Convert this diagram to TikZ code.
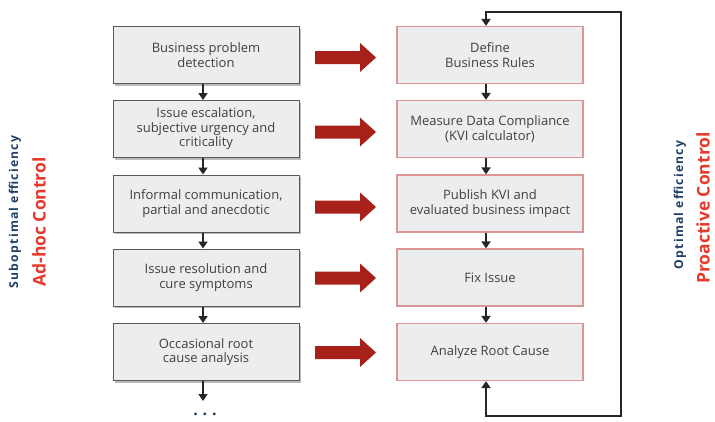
\documentclass[tikz,border=0pt]{standalone}
\usepackage{fontspec}
\setmainfont{Open Sans}
\newfontfamily\spacedfont[LetterSpace=10]{Open Sans}
\newfontfamily\dotsfont[LetterSpace=30]{Open Sans}
\usetikzlibrary{shadows,arrows.meta}
\definecolor{boxfill}{HTML}{EBEDEF}
\definecolor{leftborder}{HTML}{5A5A5A}
\definecolor{rightborder}{HTML}{D99694}
\definecolor{txt}{HTML}{404040}
\definecolor{arrowred}{HTML}{A8201A}
\definecolor{navy}{HTML}{1F3F66}
\definecolor{brightred}{HTML}{E53A2C}
\tikzset{
  boxtext/.style={align=center, text=txt, font=\fontsize{13}{14.6}\selectfont, inner sep=0pt,
    minimum width=186pt, minimum height=57pt},
  leftbox/.style={boxtext, draw=leftborder, line width=1pt, fill=boxfill,
    drop shadow={shadow xshift=2pt, shadow yshift=-2pt, fill=black!45, opacity=0.6}},
  rightbox/.style={boxtext, draw=rightborder, line width=1.2pt, fill=boxfill},
  flow/.style={line width=1.8pt, draw=black!85, -{Triangle[length=7pt,width=9pt]}},
  redarr/.pic={\fill[arrowred] (-30.5,-6.5) -- (14.5,-6.5) -- (14.5,-14.5) -- (30.5,0)
      -- (14.5,14.5) -- (14.5,6.5) -- (-30.5,6.5) -- cycle;},
  sidesmall/.style={rotate=90, text=navy, font=\spacedfont\bfseries\fontsize{12.2}{13}\selectfont, inner sep=0pt},
  sidebig/.style={rotate=90, text=brightred, font=\bfseries\fontsize{17.5}{18}\selectfont, inner sep=0pt},
}
\begin{document}
\begin{tikzpicture}[x=1pt,y=-1pt]
\useasboundingbox (0,0) rectangle (715,421);
% left column
\node[leftbox] (l1) at (206,55) {Business problem\\detection};
\node[leftbox] (l2) at (206,129) {Issue escalation,\\subjective urgency and\\criticality};
\node[leftbox] (l3) at (206,203.5) {Informal communication,\\partial and anecdotic};
\node[leftbox] (l4) at (206,277.5) {Issue resolution and\\cure symptoms};
\node[leftbox] (l5) at (206,352) {Occasional root\\cause analysis};
\node[text=navy, font=\dotsfont\bfseries\fontsize{16}{16}\selectfont, inner sep=0pt, anchor=base] (dots) at (205,415) {...};
\coordinate (dotstop) at (203,401);
% right column
\node[rightbox] (r1) at (490,55) {Define\\Business Rules};
\node[rightbox] (r2) at (490,129) {Measure Data Compliance\\(KVI calculator)};
\node[rightbox] (r3) at (490,203.5) {Publish KVI and\\evaluated business impact};
\node[rightbox] (r4) at (490,277.5) {Fix Issue};
\node[rightbox] (r5) at (490,352) {Analyze Root Cause};
% vertical flows left
\draw[flow] (l1.south -| 203,0) -- (l2.north -| 203,0);
\draw[flow] (l2.south -| 203,0) -- (l3.north -| 203,0);
\draw[flow] (l3.south -| 203,0) -- (l4.north -| 203,0);
\draw[flow] (l4.south -| 203,0) -- (l5.north -| 203,0);
\draw[flow] (l5.south -| 203,0) -- (dotstop);
% vertical flows right
\draw[flow] (r1.south -| 486,0) -- (r2.north -| 486,0);
\draw[flow] (r2.south -| 486,0) -- (r3.north -| 486,0);
\draw[flow] (r3.south -| 486,0) -- (r4.north -| 486,0);
\draw[flow] (r4.south -| 486,0) -- (r5.north -| 486,0);
% loop
\coordinate (c1) at (486,416);
\coordinate (c2) at (621,416);
\coordinate (c3) at (621,12);
\coordinate (c4) at (486,12);
\draw[line width=1.8pt, draw=black!85, {Triangle[length=7pt,width=9pt]}-{Triangle[length=7pt,width=9pt]}]
  (r5.south -| c1) -- (c1) -- (c2) -- (c3) -- (c4) -- (r1.north -| c4);
% red block arrows
\pic at (345.5,57.5) {redarr};
\pic at (345.5,132) {redarr};
\pic at (345.5,207) {redarr};
\pic at (345.5,278) {redarr};
\pic at (345.5,352.5) {redarr};
% side labels
\node[sidesmall] (sub) at (15,212) {Suboptimal efficiency};
\node[sidebig] (adhoc) at (39,222) {Ad-hoc Control};
\node[sidesmall] (opt) at (680,205) {Optimal efficiency};
\node[sidebig] (pro) at (703,208) {Proactive Control};
\end{tikzpicture}
\end{document}
